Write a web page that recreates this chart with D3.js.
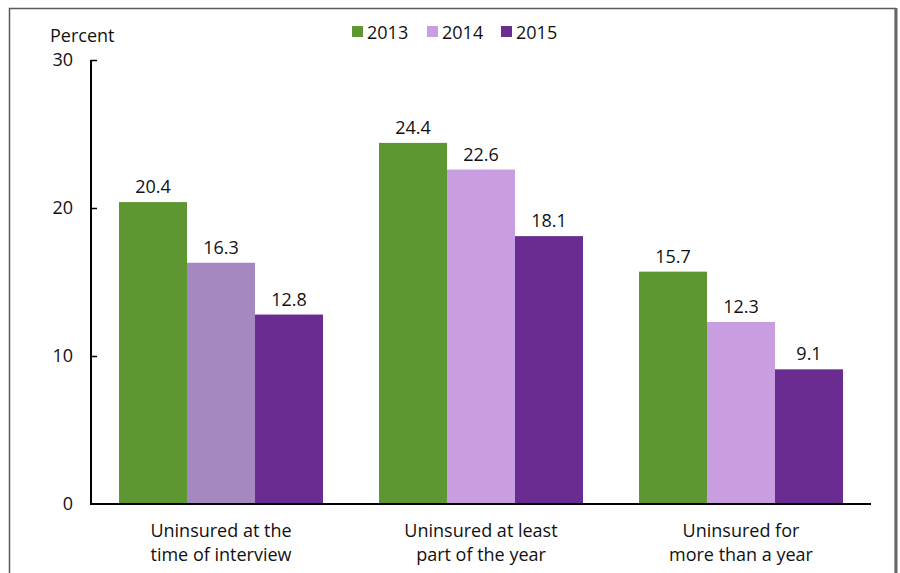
<!DOCTYPE html>
<html>
<head>
<meta charset="utf-8">
<script src="https://cdn.jsdelivr.net/npm/d3@7"></script>
<style>
  body { margin: 0; background: #fff; }
  text { font-family: "Open Sans", "Noto Sans", sans-serif; fill: #111; }
</style>
</head>
<body>
<div id="chart"></div>
<script>
const categories = [
  ["Uninsured at the", "time of interview"],
  ["Uninsured at least", "part of the year"],
  ["Uninsured for", "more than a year"]
];
const years = ["2013", "2014", "2015"];
const values2013 = [20.4, 24.4, 15.7];
const values2014 = [16.3, 22.6, 12.3];
const values2015 = [12.8, 18.1, 9.1];
const yTicks = [0, 10, 20, 30];

const width = 900;
const height = 573;
const colors = ["#5e9732", "#c89ee0", "#6a2c91"];
const mutedLavender = "#a688c0"; // first group 2014 bar is drawn in a greyer shade

const svg = d3.select("#chart")
  .append("svg")
  .attr("width", width)
  .attr("height", height);

// frame
svg.append("rect")
  .attr("x", 9.5).attr("y", 8.5)
  .attr("width", 886).attr("height", 580)
  .attr("fill", "none")
  .attr("stroke", "#5a5a5a")
  .attr("stroke-width", 1.5);
svg.append("line")
  .attr("x1", 896).attr("x2", 896)
  .attr("y1", 8).attr("y2", height)
  .attr("stroke", "#666").attr("stroke-width", 3);

const x0 = d3.scaleBand()
  .domain(d3.range(categories.length))
  .range([91, 871])
  .paddingInner(56 / 260)
  .paddingOuter(28 / 260);

const x1 = d3.scaleBand()
  .domain(years)
  .range([0, x0.bandwidth()]);

const y = d3.scaleLinear()
  .domain([0, 30])
  .range([504, 60]);

const series = [values2013, values2014, values2015];

const groups = svg.selectAll(".group")
  .data(categories)
  .enter()
  .append("g")
  .attr("transform", (d, i) => `translate(${x0(i)},0)`);

groups.each(function(cat, ci) {
  const g = d3.select(this);
  years.forEach((yr, si) => {
    const v = series[si][ci];
    g.append("rect")
      .attr("x", x1(yr))
      .attr("y", y(v))
      .attr("width", x1.bandwidth())
      .attr("height", y(0) - y(v))
      .attr("fill", (ci === 0 && si === 1) ? mutedLavender : colors[si]);
    g.append("text")
      .attr("x", x1(yr) + x1.bandwidth() / 2)
      .attr("y", y(v) - 9)
      .attr("text-anchor", "middle")
      .attr("font-size", 18)
      .text(v.toFixed(1));
  });
  cat.forEach((line, li) => {
    g.append("text")
      .attr("x", x0.bandwidth() / 2)
      .attr("y", 537 + li * 24)
      .attr("text-anchor", "middle")
      .attr("font-size", 18)
      .text(line);
  });
});

// y axis
const yAxis = d3.axisRight(y)
  .tickValues(yTicks)
  .tickSize(6)
  .tickFormat("");
const ya = svg.append("g")
  .attr("transform", "translate(91,0)")
  .call(yAxis);
ya.select(".domain").attr("stroke", "#000").attr("stroke-width", 2)
  .attr("d", `M0,${y(30)}V${y(0)}`);
ya.selectAll(".tick line").attr("stroke", "#000").attr("stroke-width", 1.5);
ya.selectAll(".tick").filter(d => d === 0).remove();

svg.selectAll(".ylab")
  .data(yTicks)
  .enter()
  .append("text")
  .attr("x", 73)
  .attr("y", d => y(d) + 6)
  .attr("text-anchor", "end")
  .attr("font-size", 18)
  .text(d => d);

// x axis line
svg.append("line")
  .attr("x1", 90).attr("x2", 871)
  .attr("y1", y(0)).attr("y2", y(0))
  .attr("stroke", "#000").attr("stroke-width", 2);

svg.append("text")
  .attr("x", 50).attr("y", 42)
  .attr("font-size", 18)
  .text("Percent");

// legend
const legendX = [352, 427, 501];
years.forEach((yr, i) => {
  svg.append("rect")
    .attr("x", legendX[i]).attr("y", 26)
    .attr("width", 11).attr("height", 11)
    .attr("fill", colors[i]);
  svg.append("text")
    .attr("x", legendX[i] + 15).attr("y", 38.5)
    .attr("font-size", 18)
    .text(yr);
});
</script>
</body>
</html>
